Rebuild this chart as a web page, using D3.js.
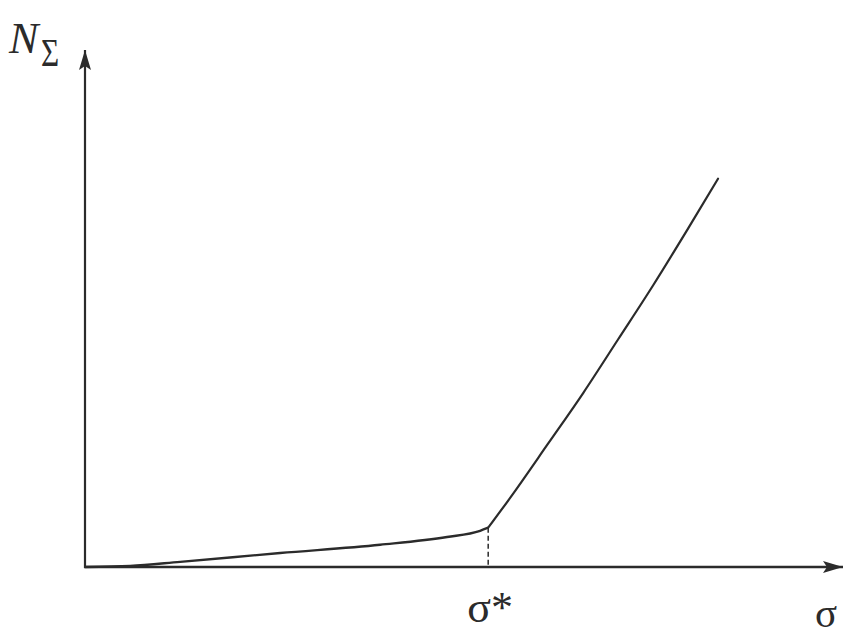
<!DOCTYPE html>
<html>
<head>
<meta charset="utf-8">
<script src="https://cdn.jsdelivr.net/npm/d3@7"></script>
<style>
  html, body { margin: 0; padding: 0; background: #fff; }
  svg { display: block; }
</style>
</head>
<body>
<svg id="chart" width="843" height="637"></svg>
<script>
// ---- data (σ in arbitrary units, N_Σ in arbitrary units) ----
const sigmaLower = [0, 0.56, 1.18, 2.42, 3.66, 4.49, 4.90, 5.00];
const nLower     = [0, 0.02, 0.10, 0.27, 0.43, 0.58, 0.70, 0.76];
const sigmaUpper = [5.00, 5.31, 5.74, 6.18, 6.61, 7.05, 7.48, 7.85];
const nUpper     = [0.76, 1.42, 2.38, 3.37, 4.40, 5.46, 6.55, 7.51];
const sigmaStar = 5.00;
const nStar = 0.76;
const xLabel = "σ";
const starLabel = "σ*";
const yLabelMain = "N";
const yLabelSub = "Σ";

const svg = d3.select("#chart");
const x = d3.scaleLinear().domain([0, 9.4]).range([85, 843]);
const y = d3.scaleLinear().domain([0, 10]).range([567, 50]);

const ink = "#2b2b2b";
const serif = "Liberation Serif, DejaVu Serif, serif";

const defs = svg.append("defs");
defs.append("marker")
  .attr("id", "arrow")
  .attr("viewBox", "0 0 20 12")
  .attr("refX", 20).attr("refY", 6)
  .attr("markerWidth", 20).attr("markerHeight", 12)
  .attr("markerUnits", "userSpaceOnUse")
  .attr("orient", "auto")
  .append("path")
  .attr("d", "M0,0 L20,6 L0,12 L4,6 Z")
  .attr("fill", ink);

// axes
svg.append("line")
  .attr("x1", x(0)).attr("y1", y(0) + 1)
  .attr("x2", x(0)).attr("y2", y(10))
  .attr("stroke", ink).attr("stroke-width", 2.2)
  .attr("marker-end", "url(#arrow)");
svg.append("line")
  .attr("x1", x(0) - 1).attr("y1", y(0))
  .attr("x2", x(9.4)).attr("y2", y(0))
  .attr("stroke", ink).attr("stroke-width", 2.6)
  .attr("marker-end", "url(#arrow)");

// dashed drop line
svg.append("line")
  .attr("x1", x(sigmaStar)).attr("y1", y(nStar))
  .attr("x2", x(sigmaStar)).attr("y2", y(0))
  .attr("stroke", ink).attr("stroke-width", 1.5)
  .attr("stroke-dasharray", "5,3");

const line = d3.line()
  .x(d => x(d[0])).y(d => y(d[1]))
  .curve(d3.curveMonotoneX);

svg.append("path")
  .datum(d3.zip(sigmaLower, nLower))
  .attr("d", line)
  .attr("fill", "none").attr("stroke", ink).attr("stroke-width", 2.4);
svg.append("path")
  .datum(d3.zip(sigmaUpper, nUpper))
  .attr("d", line)
  .attr("fill", "none").attr("stroke", ink).attr("stroke-width", 2.2)
  .attr("stroke-linecap", "round");

// labels
svg.append("text")
  .attr("x", 9).attr("y", 53)
  .attr("font-family", serif).attr("font-style", "italic")
  .attr("font-size", 44).attr("fill", ink)
  .text(yLabelMain);
svg.append("text")
  .attr("x", 41).attr("y", 66)
  .attr("font-family", serif)
  .attr("font-size", 40).attr("fill", ink)
  .attr("transform", "translate(41,0) scale(0.78,1) translate(-41,0)")
  .text(yLabelSub);

svg.append("text")
  .attr("x", x(sigmaStar) - 21).attr("y", 622)
  .attr("font-family", serif)
  .attr("font-size", 44).attr("fill", ink)
  .text(starLabel);

svg.append("text")
  .attr("x", 815).attr("y", 627)
  .attr("font-family", serif)
  .attr("font-size", 41).attr("fill", ink)
  .text(xLabel);
</script>
</body>
</html>
